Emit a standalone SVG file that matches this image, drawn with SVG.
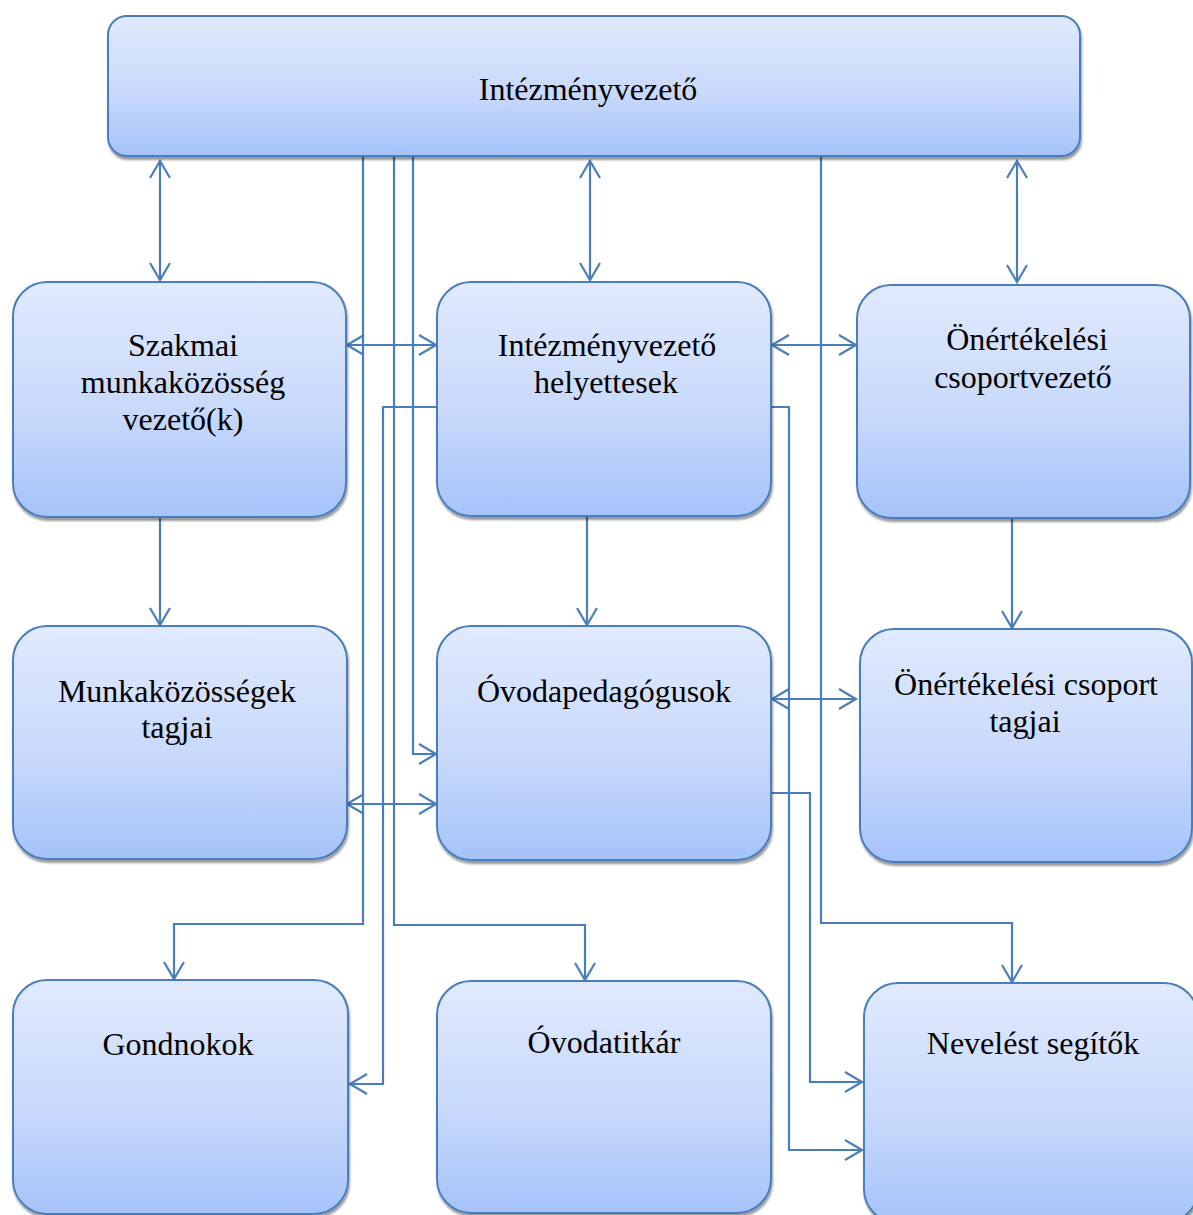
<svg xmlns="http://www.w3.org/2000/svg" width="1193" height="1215" viewBox="0 0 1193 1215">
<defs>
<linearGradient id="g" x1="0" y1="0" x2="0" y2="1">
<stop offset="0" stop-color="#e1eafd"/>
<stop offset="0.55" stop-color="#c8d9fb"/>
<stop offset="1" stop-color="#a5c3fa"/>
</linearGradient>
<filter id="sh" x="-5%" y="-5%" width="110%" height="115%">
<feDropShadow dx="1" dy="3" stdDeviation="1" flood-color="#000" flood-opacity="0.4"/>
</filter>
<marker id="arr" viewBox="-20 -12 22 24" refX="0" refY="0" markerWidth="22" markerHeight="24" markerUnits="userSpaceOnUse" orient="auto-start-reverse" overflow="visible">
<path d="M-17,-10 L0,0 L-17,10" fill="none" stroke="#4a7ebb" stroke-width="2.2"/>
</marker>
</defs>
<style>
.box{fill:url(#g);stroke:#4a7ebb;stroke-width:2;filter:url(#sh)}
.t{font-family:"Liberation Serif","Times New Roman",serif;font-size:32px;fill:#000;text-anchor:middle}
.c{fill:none;stroke:#4a7ebb;stroke-width:2.2}
.a{marker-end:url(#arr)}
.b{marker-start:url(#arr);marker-end:url(#arr)}
</style>
<rect width="1193" height="1215" fill="#fff"/>

<g id="connectors">
<path class="c b" d="M160,161 V280"/>
<path class="c b" d="M590,161 V280"/>
<path class="c b" d="M1017,161 V282"/>
<path class="c b" d="M347,345 H436"/>
<path class="c b" d="M772,345 H856"/>
<path class="c b" d="M772,699 H856"/>
<path class="c b" d="M347,804 H436"/>
<path class="c a" d="M160,517 V625"/>
<path class="c a" d="M587,516 V625"/>
<path class="c a" d="M1012,519 V628"/>
<path class="c a" d="M363,157 V924 H174 V979"/>
<path class="c a" d="M394,157 V925 H585 V980"/>
<path class="c a" d="M413,157 V754 H436"/>
<path class="c a" d="M821,157 V923 H1012 V982"/>
<path class="c a" d="M440,407 H383 V1084 H350"/>
<path class="c a" d="M771,407 H789 V1150 H862"/>
<path class="c a" d="M771,793 H810 V1082 H862"/>
</g>

<g id="n-intezmenyvezeto">
<rect class="box" x="108" y="16" width="972" height="140" rx="19"/>
<text class="t" x="588" y="100">Intézményvezető</text>
</g>

<g id="n-szakmai">
<rect class="box" x="13" y="282" width="333" height="235" rx="34"/>
<text class="t" x="183" y="356">Szakmai</text>
<text class="t" x="183" y="393">munkaközösség</text>
<text class="t" x="183" y="430">vezető(k)</text>
</g>

<g id="n-helyettesek">
<rect class="box" x="437" y="282" width="334" height="234" rx="34"/>
<text class="t" x="607" y="356">Intézményvezető</text>
<text class="t" x="606" y="393">helyettesek</text>
</g>

<g id="n-onertekelesi-vezeto">
<rect class="box" x="857" y="285" width="333" height="233" rx="34"/>
<text class="t" x="1027" y="350">Önértékelési</text>
<text class="t" x="1023" y="388">csoportvezető</text>
</g>

<g id="n-munkakozossegek">
<rect class="box" x="13" y="626" width="334" height="233" rx="34"/>
<text class="t" x="177" y="702">Munkaközösségek</text>
<text class="t" x="177" y="738">tagjai</text>
</g>

<g id="n-ovodapedagogusok">
<rect class="box" x="437" y="626" width="334" height="234" rx="34"/>
<text class="t" x="604" y="702">Óvodapedagógusok</text>
</g>

<g id="n-onertekelesi-tagok">
<rect class="box" x="860" y="629" width="332" height="233" rx="34"/>
<text class="t" x="1026" y="695">Önértékelési csoport</text>
<text class="t" x="1025" y="732">tagjai</text>
</g>

<g id="n-gondnokok">
<rect class="box" x="13" y="980" width="335" height="234" rx="34"/>
<text class="t" x="178" y="1055">Gondnokok</text>
</g>

<g id="n-ovodatitkar">
<rect class="box" x="437" y="981" width="334" height="232" rx="34"/>
<text class="t" x="604" y="1053">Óvodatitkár</text>
</g>

<g id="n-neveles">
<rect class="box" x="864" y="983" width="334" height="240" rx="34"/>
<text class="t" x="1033" y="1054">Nevelést segítők</text>
</g>
</svg>
